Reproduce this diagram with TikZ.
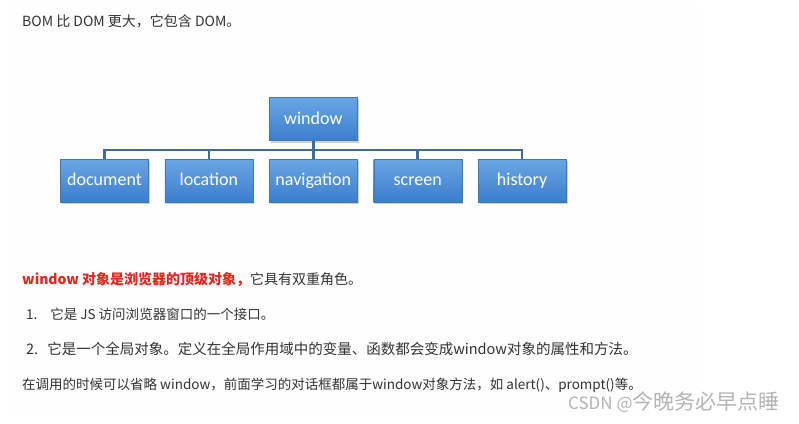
\documentclass[tikz,border=0pt]{standalone}
\usepackage{fontspec}
\setmainfont{Noto Sans CJK SC}
\newfontfamily\boxfont{Carlito}
\usepackage{xcolor}
\definecolor{BoxTop}{HTML}{6AA6E4}
\definecolor{BoxBottom}{HTML}{3A7ECC}
\definecolor{BoxLine}{HTML}{3E78BA}
\definecolor{TreeLine}{HTML}{3F6C98}
\definecolor{TextGray}{HTML}{333333}
\definecolor{TextRed}{HTML}{E5261C}
\definecolor{MarkGray}{HTML}{B4B4B4}
\definecolor{PageTint}{HTML}{FDFEFD}
\usetikzlibrary{positioning,calc,shadows}

\begin{document}
\begin{tikzpicture}[x=1pt, y=-1pt, node distance=16pt, >=latex,
    objbox/.style={rectangle, draw=BoxLine, top color=BoxTop, bottom color=BoxBottom,
      minimum width=88pt, minimum height=43pt, inner sep=0pt, text=white,
      text height=13pt, text depth=3pt,
      font=\boxfont\fontsize{18}{20}\selectfont,
      drop shadow={shadow xshift=1.5pt, shadow yshift=-2pt, opacity=0.3, fill=black!60}},
    tree/.style={draw=TreeLine, line width=2.6pt},
    txt/.style={anchor=base west, inner sep=0pt, text=TextGray, font=\fontsize{14}{16}\selectfont}]
    \useasboundingbox (0,0) rectangle (799,423);
    \fill [PageTint] (8,6) rectangle (700,416);

    % Title line
    \node [txt] (title) at (22,26) {BOM 比 DOM 更大，它包含 DOM。};

    % Object tree
    \node [objbox] (document) at (104.5,180.5) {document};
    \node [objbox, right=of document] (location) {location};
    \node [objbox, right=of location] (navigation) {navigation};
    \node [objbox, right=of navigation] (screen) {screen};
    \node [objbox, right=of screen] (history) {history};
    \node [objbox, above=18pt of navigation] (window) {window};

    % Branches
    \coordinate (fork) at ($(window.south)!0.5!(navigation.north)$);
    \path [tree] (window.south) -- (navigation.north);
    \path [tree] (document.north) |- (fork);
    \path [tree] (location.north) |- (fork);
    \path [tree] (screen.north) |- (fork);
    \path [tree] (history.north) |- (fork);

    % Notes
    \node [txt] (roles) at (22,284) {\textcolor{TextRed}{\bfseries window 对象是浏览器的顶级对象，}它具有双重角色。};
    \node [txt, font=\fontsize{13.5}{16}\selectfont] (first) at (26,319) {1.\hspace{13pt}它是 JS 访问浏览器窗口的一个接口。};
    \node [txt, font=\fontsize{14.5}{17}\selectfont] (second) at (26,354) {2.\hspace{9pt}它是一个全局对象。定义在全局作用域中的变量、函数都会变成window对象的属性和方法。};
    \node [txt, font=\fontsize{13.5}{16}\selectfont] (third) at (22,389) {在调用的时候可以省略 window，前面学习的对话框都属于window对象方法，如 alert()、prompt()等。};
    \node [txt, text=MarkGray, font=\fontsize{17}{20}\selectfont] (mark) at (568,409) {CSDN @{\fontsize{21}{23}\selectfont 今晚务必早点睡}};
\end{tikzpicture}
\end{document}
